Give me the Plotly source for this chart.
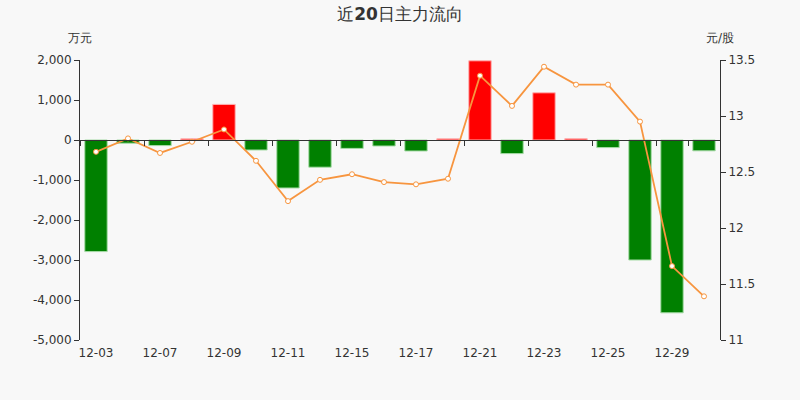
import plotly.graph_objects as go

# 近20日主力流向 -- net main-force flow (万元) and close price (元/股)
dates = ["12-03", "12-04", "12-07", "12-08", "12-09", "12-10", "12-11", "12-14",
         "12-15", "12-16", "12-17", "12-18", "12-21", "12-22", "12-23", "12-24",
         "12-25", "12-28", "12-29", "12-30"]
flow = [-2790, -80, -140, 30, 890, -250, -1200, -680, -210, -150,
        -275, 30, 1980, -340, 1180, 33, -190, -3000, -4320, -270]
price = [12.68, 12.80, 12.67, 12.77, 12.88, 12.60, 12.24, 12.43, 12.48, 12.41,
         12.39, 12.44, 13.36, 13.09, 13.44, 13.28, 13.28, 12.95, 11.66, 11.39]

left_ticks = [2000, 1000, 0, -1000, -2000, -3000, -4000, -5000]
left_text = ["2,000", "1,000", "0", "-1,000", "-2,000", "-3,000", "-4,000", "-5,000"]
label_dates = dates[::2]

bar_colors = ["#ff0000" if v > 0 else "#008000" for v in flow]
edge_colors = ["#ffb3b3" if v > 0 else "#a6dba6" for v in flow]

fig = go.Figure()
fig.add_trace(go.Bar(x=dates, y=flow, width=0.7,
                     marker=dict(color=bar_colors, line=dict(color=edge_colors, width=1)),
                     showlegend=False))
fig.add_trace(go.Scatter(x=dates, y=price, yaxis="y2", mode="lines+markers",
                         line=dict(color="#f7953f", width=1.8),
                         marker=dict(size=5, color="white",
                                     line=dict(color="#f7953f", width=1)),
                         showlegend=False))

axis_col = "#333333"
fig.update_layout(
    width=800, height=400,
    paper_bgcolor="#f8f8f8", plot_bgcolor="#f8f8f8",
    margin=dict(l=80, r=80, t=60, b=60),
    font=dict(family="DejaVu Sans", size=12, color=axis_col),
    title=dict(text="近<b>20</b>日主力流向", x=0.5, xanchor="center",
               y=0.965, yanchor="middle",
               font=dict(size=17, color=axis_col)),
    bargap=0.3,
    xaxis=dict(type="category", tickmode="array", tickvals=label_dates,
               ticks="", showline=False, showgrid=False, zeroline=False,
               ticklabelstandoff=4,
               tickfont=dict(size=12, color=axis_col), range=[-0.5, 19.5]),
    # second x axis only draws the baseline with boundary ticks at zero
    xaxis2=dict(type="category", overlaying="x", matches="x", anchor="free",
                position=5 / 7, side="bottom", showline=True, linecolor=axis_col,
                linewidth=1, ticks="outside", ticklen=5, tickcolor=axis_col,
                tickmode="array", tickvals=label_dates, tickson="boundaries",
                showticklabels=False, showgrid=False),
    yaxis=dict(range=[-5000, 2000], tickmode="array", tickvals=left_ticks,
               ticktext=left_text, showgrid=False, zeroline=False,
               showline=True, linecolor=axis_col, linewidth=1,
               ticks="outside", ticklen=5, tickcolor=axis_col),
    yaxis2=dict(range=[11, 13.5], dtick=0.5, overlaying="y", side="right",
                showgrid=False, zeroline=False, showline=True,
                linecolor=axis_col, linewidth=1, ticks="outside", ticklen=5,
                tickcolor=axis_col),
)
fig.add_trace(go.Scatter(x=dates, y=[None] * len(dates), xaxis="x2",
                         showlegend=False, hoverinfo="skip"))

fig.add_annotation(text="万元", xref="paper", yref="paper", x=0, y=1.08,
                   xanchor="center", yanchor="middle", showarrow=False,
                   font=dict(size=12, color=axis_col))
fig.add_annotation(text="元/股", xref="paper", yref="paper", x=1, y=1.08,
                   xanchor="center", yanchor="middle", showarrow=False,
                   font=dict(size=12, color=axis_col))

fig.write_html("out.html", config={"displayModeBar": False},
               post_script="document.body.style.margin='0';document.body.style.background='#f8f8f8';")
